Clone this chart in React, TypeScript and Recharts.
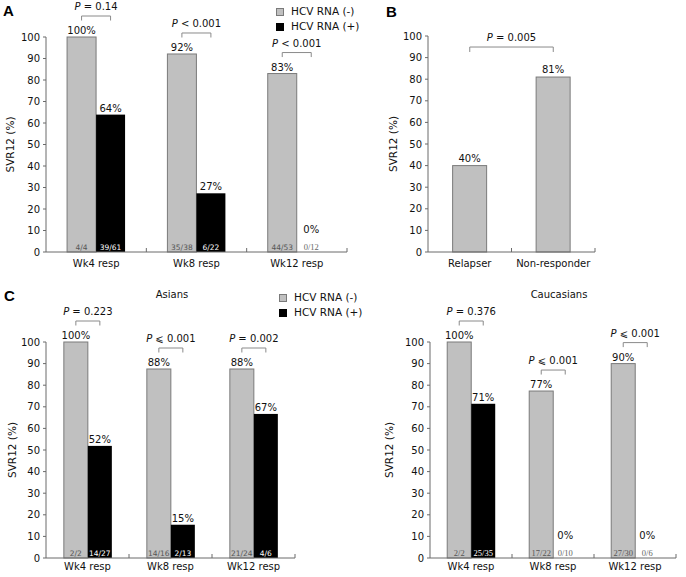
import React from 'react';
import { BarChart, Bar, XAxis, YAxis, ReferenceLine } from 'recharts';

const FONT = '"DejaVu Sans", Verdana, sans-serif';
const SERIF = '"Liberation Serif", "DejaVu Serif", serif';
const BOLD_FONT = '"Liberation Sans", Arial, sans-serif';
const GRAY = '#c0c0c0';
const GRAY_STROKE = '#7a7a7a';
const AXIS = '#6a6a6a';
const BRACKET = '#8a8a8a';
const TEXT = '#111111';

// ---------- shared ----------
const respCategories = ['Wk4 resp', 'Wk8 resp', 'Wk12 resp'];
const legendNames = ['HCV RNA (-)', 'HCV RNA (+)'];
const yTicks = [0, 10, 20, 30, 40, 50, 60, 70, 80, 90, 100];
const yAxisTitle = 'SVR12 (%)';

// ---------- Panel A ----------
const aNegative = [100, 92.1, 83.0];
const aPositive = [63.9, 27.3, 0];
const aNegativeCounts = ['4/4', '35/38', '44/53'];
const aPositiveCounts = ['39/61', '6/22', '0/12'];
const aPValues = ['= 0.14', '< 0.001', '< 0.001'];

// ---------- Panel B ----------
const bCategories = ['Relapser', 'Non-responder'];
const bValues = [40, 81];
const bPValue = '= 0.005';

// ---------- Panel C: Asians ----------
const asNegative = [100, 87.5, 87.5];
const asPositive = [51.9, 15.4, 66.7];
const asNegativeCounts = ['2/2', '14/16', '21/24'];
const asPositiveCounts = ['14/27', '2/13', '4/6'];
const asPValues = ['= 0.223', '\u2A7D 0.001', '= 0.002'];

// ---------- Panel C: Caucasians ----------
const caNegative = [100, 77.3, 90];
const caPositive = [71.4, 0, 0];
const caNegativeCounts = ['2/2', '17/22', '27/30'];
const caPositiveCounts = ['25/35', '0/10', '0/6'];
const caPValues = ['= 0.376', '\u2A7D 0.001', '\u2A7D 0.001'];

type Row = { name: string; neg: number; pos: number; negN: string; posN: string; p: string };

const buildRows = (
  cats: string[], neg: number[], pos: number[], negN: string[], posN: string[], p: string[],
): Row[] => cats.map((c, i) => ({ name: c, neg: neg[i], pos: pos[i], negN: negN[i], posN: posN[i], p: p[i] }));

const aRows = buildRows(respCategories, aNegative, aPositive, aNegativeCounts, aPositiveCounts, aPValues);
const asRows = buildRows(respCategories, asNegative, asPositive, asNegativeCounts, asPositiveCounts, asPValues);
const caRows = buildRows(respCategories, caNegative, caPositive, caNegativeCounts, caPositiveCounts, caPValues);
const bRows = bCategories.map((c, i) => ({ name: c, value: bValues[i] }));

const PText = ({ x, y, text }: { x: number; y: number; text: string }) => (
  <text x={x} y={y} textAnchor="middle" fontSize={10} fill={TEXT} fontFamily={FONT}>
    <tspan fontStyle="italic">P</tspan>
    {' ' + text}
  </text>
);

const makeNegShape = (serifCounts: boolean) => (props: any) => {
  const { x, y, width, height, payload } = props;
  const cx = x + width / 2;
  const by = y - 21;
  return (
    <g>
      <rect x={x} y={y} width={width} height={height} fill={GRAY} stroke={GRAY_STROKE} strokeWidth={1} />
      <text x={cx} y={y - 3} textAnchor="middle" fontSize={10} fill={TEXT} fontFamily={FONT}>
        {Math.round(payload.neg) + '%'}
      </text>
      <text x={cx} y={y + height - 2.5} textAnchor="middle" fontSize={serifCounts ? 8.5 : 7.5} fill="#555"
        fontFamily={serifCounts ? SERIF : FONT}>
        {payload.negN}
      </text>
      <polyline
        points={`${cx},${by + 4.5} ${cx},${by} ${cx + width},${by} ${cx + width},${by + 4.5}`}
        fill="none" stroke={BRACKET} strokeWidth={1}
      />
      <PText x={x + width} y={by - 6} text={payload.p} />
    </g>
  );
};

const makePosShape = (serifCounts: boolean) => (props: any) => {
  const { x, y, width, height, payload } = props;
  const cx = x + width / 2;
  const v = payload.pos;
  const zero = v === 0;
  const serif = zero || serifCounts;
  return (
    <g>
      {!zero && <rect x={x} y={y} width={width} height={height} fill="#000" />}
      <text x={cx} y={zero ? y - 19 : y - 3} textAnchor="middle" fontSize={10} fill={TEXT} fontFamily={FONT}>
        {Math.round(v) + '%'}
      </text>
      <text x={cx} y={y + height - 2.5} textAnchor="middle" fontSize={serif ? 8.5 : 7.5}
        fill={zero ? '#666' : '#fff'}
        fontFamily={serif ? SERIF : FONT}>
        {payload.posN}
      </text>
    </g>
  );
};

const bShape = (props: any) => {
  const { x, y, width, height, payload } = props;
  return (
    <g>
      <rect x={x} y={y} width={width} height={height} fill={GRAY} stroke={GRAY_STROKE} strokeWidth={1} />
      <text x={x + width / 2} y={y - 4} textAnchor="middle" fontSize={10} fill={TEXT} fontFamily={FONT}>
        {payload.value + '%'}
      </text>
    </g>
  );
};

const makeXTick = (band: number, margin: number) => (props: any) => {
  const { x, y, payload } = props;
  const axisY = y - margin;
  const bx = x + band / 2;
  return (
    <g>
      <text x={x} y={y} dy="0.71em" textAnchor="middle" fontSize={10} fill={TEXT} fontFamily={FONT}>
        {payload.value}
      </text>
      <line x1={bx} x2={bx} y1={axisY} y2={axisY - 4} stroke={AXIS} strokeWidth={1} />
    </g>
  );
};

const makeYLabel = (lx: number) => (props: any) => {
  const vb = props.viewBox || {};
  const cy = vb.y + vb.height / 2;
  return (
    <text x={lx} y={cy} transform={`rotate(-90 ${lx} ${cy})`} textAnchor="middle" dominantBaseline="central"
      fontSize={10.5} fill={TEXT} fontFamily={FONT}>
      {yAxisTitle}
    </text>
  );
};

const yAxisProps = (lx: number) => ({
  domain: [0, 100] as [number, number],
  ticks: yTicks,
  interval: 0 as const,
  width: 46,
  tickSize: 3,
  tickMargin: 3,
  axisLine: { stroke: AXIS },
  tickLine: { stroke: AXIS },
  tick: { fontSize: 10, fill: TEXT, fontFamily: FONT },
  label: makeYLabel(lx),
});

const Legend = ({ left, top }: { left: number; top: number }) => (
  <div style={{ position: 'absolute', left, top, fontFamily: FONT, fontSize: 10.5, color: TEXT, lineHeight: '15px' }}>
    {legendNames.map((n, i) => (
      <div key={n} style={{ display: 'flex', alignItems: 'center', height: 15, whiteSpace: 'nowrap' }}>
        <span style={{
          display: 'inline-block', width: 6, height: 6, marginRight: 7,
          background: i === 0 ? GRAY : '#000', border: `1px solid ${i === 0 ? GRAY_STROKE : '#000'}`,
        }} />
        <span>{n}</span>
      </div>
    ))}
  </div>
);

const Letter = ({ left, top, t }: { left: number; top: number; t: string }) => (
  <div style={{ position: 'absolute', left, top, fontFamily: BOLD_FONT, fontWeight: 'bold', fontSize: 15, lineHeight: '16px' }}>{t}</div>
);

const Title = ({ cx, top, t }: { cx: number; top: number; t: string }) => (
  <div style={{ position: 'absolute', left: cx - 60, width: 120, top, textAlign: 'center', fontFamily: FONT, fontSize: 10, lineHeight: '12px', color: TEXT }}>{t}</div>
);

const BRACKET_Y = 94.9;
const BRACKET_LEG_Y = 92.6;

export default function App() {
  return (
    <div style={{ position: 'absolute', left: 0, top: 0, width: 686, height: 577, background: '#fff', overflow: 'hidden' }}>
      {/* Panel A */}
      <div style={{ position: 'absolute', left: 0, top: 0 }}>
        <BarChart width={350} height={275} data={aRows} margin={{ top: 37, right: 3, bottom: 3, left: 0 }}
          barCategoryGap="21%" barGap={0}>
          <XAxis dataKey="name" interval={0} height={20} tickSize={0} tickMargin={8} tickLine={false}
            axisLine={{ stroke: AXIS }} tick={makeXTick((350 - 3 - 46) / 3, 8)} />
          <YAxis {...yAxisProps(10)} />
          <Bar dataKey="neg" fill={GRAY} shape={makeNegShape(false)} isAnimationActive={false} />
          <Bar dataKey="pos" fill="#000" shape={makePosShape(false)} isAnimationActive={false} />
        </BarChart>
      </div>

      {/* Panel B */}
      <div style={{ position: 'absolute', left: 350, top: 0 }}>
        <BarChart width={336} height={275} data={bRows} margin={{ top: 36, right: 91, bottom: 3, left: 32 }}
          barCategoryGap="29.5%">
          <XAxis dataKey="name" interval={0} height={20} tickSize={0} tickMargin={8} tickLine={false}
            axisLine={{ stroke: AXIS }} tick={makeXTick((336 - 91 - 32 - 46) / 2, 8)} />
          <YAxis {...yAxisProps(43)} />
          <Bar dataKey="value" fill={GRAY} shape={bShape} isAnimationActive={false} />
          <ReferenceLine segment={[{ x: bCategories[0], y: BRACKET_Y }, { x: bCategories[1], y: BRACKET_Y }]}
            stroke={BRACKET} strokeWidth={1}
            label={(p: any) => {
              const vb = p.viewBox || {};
              return <PText x={vb.x + vb.width / 2} y={vb.y - 6} text={bPValue} />;
            }} />
          <ReferenceLine segment={[{ x: bCategories[0], y: BRACKET_Y }, { x: bCategories[0], y: BRACKET_LEG_Y }]}
            stroke={BRACKET} strokeWidth={1} />
          <ReferenceLine segment={[{ x: bCategories[1], y: BRACKET_Y }, { x: bCategories[1], y: BRACKET_LEG_Y }]}
            stroke={BRACKET} strokeWidth={1} />
        </BarChart>
      </div>

      {/* Panel C - Asians */}
      <div style={{ position: 'absolute', left: 0, top: 277 }}>
        <BarChart width={350} height={300} data={asRows} margin={{ top: 65, right: 55, bottom: 0, left: 0 }}
          barCategoryGap="21.5%" barGap={0}>
          <XAxis dataKey="name" interval={0} height={19} tickSize={0} tickMargin={5} tickLine={false}
            axisLine={{ stroke: AXIS }} tick={makeXTick((350 - 55 - 46) / 3, 5)} />
          <YAxis {...yAxisProps(12)} />
          <Bar dataKey="neg" fill={GRAY} shape={makeNegShape(false)} isAnimationActive={false} />
          <Bar dataKey="pos" fill="#000" shape={makePosShape(false)} isAnimationActive={false} />
        </BarChart>
      </div>

      {/* Panel C - Caucasians */}
      <div style={{ position: 'absolute', left: 350, top: 277 }}>
        <BarChart width={336} height={300} data={caRows} margin={{ top: 65, right: 10, bottom: 0, left: 34 }}
          barCategoryGap="21%" barGap={0}>
          <XAxis dataKey="name" interval={0} height={19} tickSize={0} tickMargin={5} tickLine={false}
            axisLine={{ stroke: AXIS }} tick={makeXTick((336 - 10 - 34 - 46) / 3, 5)} />
          <YAxis {...yAxisProps(39)} />
          <Bar dataKey="neg" fill={GRAY} shape={makeNegShape(true)} isAnimationActive={false} />
          <Bar dataKey="pos" fill="#000" shape={makePosShape(true)} isAnimationActive={false} />
        </BarChart>
      </div>

      <Legend left={276} top={4} />
      <Legend left={279} top={290} />
      <Letter left={3} top={3} t="A" />
      <Letter left={386} top={4} t="B" />
      <Letter left={4} top={288} t="C" />
      <Title cx={172} top={289} t="Asians" />
      <Title cx={559} top={289} t="Caucasians" />
    </div>
  );
}
